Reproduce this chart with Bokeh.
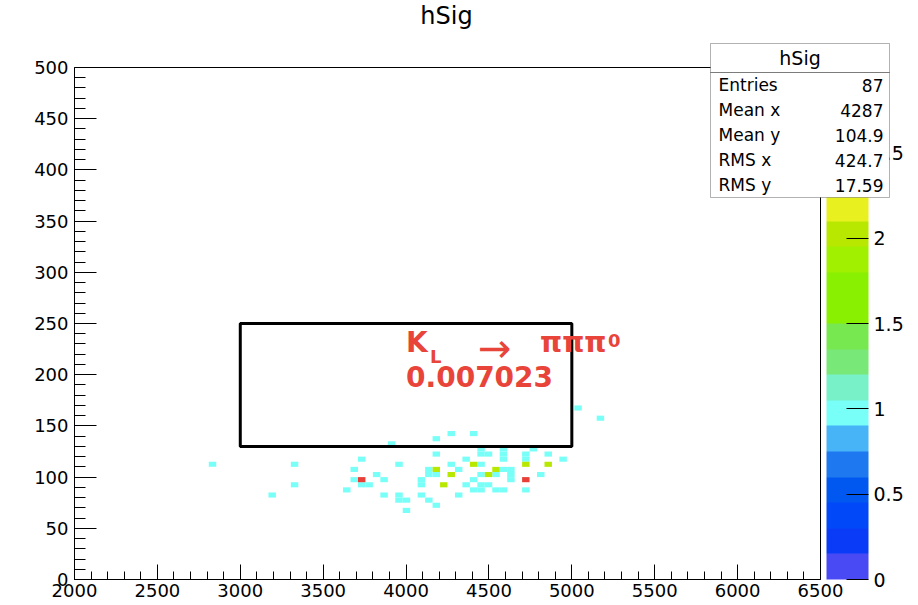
from bokeh.plotting import figure
from bokeh.models import (ColumnDataSource, LinearColorMapper, ColorBar, FixedTicker,
                          SingleIntervalTicker, Label, BoxAnnotation, Range1d)
from bokeh.embed import file_html
from bokeh.resources import INLINE

# hSig: 100 x 100 bins, x in [2000, 6500], y in [0, 500]
x_min, x_max, n_x = 2000, 6500, 100
y_min, y_max, n_y = 0, 500, 100

# filled bins: x bin index, y bin index, content
bin_ix = [67, 70, 50, 53, 48, 42,
          54, 57, 61,
          48, 54, 55, 57, 60, 63,
          38, 52, 57, 60, 65,
          18, 29, 43, 50, 54,
          37, 47, 51, 57, 58,
          40, 47, 48, 54, 56, 58, 62,
          37, 41, 46, 53, 58,
          29, 38, 39, 46, 52, 54, 55,
          36, 53, 54, 56, 57, 60,
          26, 41, 43, 46, 51,
          43, 44, 47,
          48,
          44,
          53, 60, 63, 48, 56, 50, 55, 49,
          38, 60]
bin_iy = [33, 31, 28, 28, 27, 26,
          25, 25, 25,
          24, 24, 24, 24, 24, 24,
          23, 23, 23, 23, 23,
          22, 22, 22, 22, 22,
          21, 21, 21, 21, 21,
          20, 20, 20, 20, 20, 20, 20,
          19, 19, 19, 19, 19,
          18, 18, 18, 18, 18, 18, 18,
          17, 17, 17, 17, 17, 17,
          16, 16, 16, 16, 16,
          15, 15, 15,
          14,
          13,
          22, 22, 22, 21, 21, 20, 20, 18,
          19, 19]
bin_content = [1] * 65 + [2] * 8 + [3] * 2

# signal window drawn on top of the histogram
window_x = [3000, 5000]
window_y = [130, 250]

# statistics box
stats_title = "hSig"
stats_names = ["Entries", "Mean x", "Mean y", "RMS x", "RMS y"]
stats_values = ["87", "4287", "104.9", "424.7", "17.59"]

# colour scale
z_min, z_max = 0, 3
z_ticks = [0, 0.5, 1, 1.5, 2, 2.5, 3]
palette = ["#4a4af5", "#0a3cf8", "#0048f8", "#0058f0", "#1e78f0", "#48b4f8",
           "#78fff8", "#78f0c8", "#78e878", "#78e850", "#88f000", "#88f000",
           "#a0f000", "#b8e800", "#e8f020", "#f8d820", "#f8b020", "#f88828",
           "#f06030", "#e84038"]

FONT = "DejaVu Sans"
RED = "#e8443a"

# canvas geometry (pixels): the histogram occupies [74, 820] x [67, 579]
W, H = 918, 605
PLOT_L, PLOT_R, PLOT_T, PLOT_B = 74, 820, 67, 579


def sx(px):
    """canvas x pixel -> screen units (relative to the frame's left edge)"""
    return px - PLOT_L


def sy(py):
    """canvas y pixel -> screen units (upwards from the frame's bottom edge)"""
    return PLOT_B - py


dx = (x_max - x_min) / n_x
dy = (y_max - y_min) / n_y
src = ColumnDataSource(dict(
    left=[x_min + i * dx for i in bin_ix],
    right=[x_min + (i + 1) * dx for i in bin_ix],
    bottom=[y_min + j * dy for j in bin_iy],
    top=[y_min + (j + 1) * dy for j in bin_iy],
    z=bin_content,
))

# the frame spans the full width / top of the canvas so that the colour bar,
# title and statistics box can share it; axes are bounded to the histogram range
x_end = x_min + (x_max - x_min) * (W - PLOT_L) / (PLOT_R - PLOT_L)
y_end = y_min + (y_max - y_min) * PLOT_B / (PLOT_B - PLOT_T)
p = figure(width=W, height=H, x_range=Range1d(x_min, x_end), y_range=Range1d(y_min, y_end),
           output_backend="svg", toolbar_location=None,
           min_border_left=PLOT_L, min_border_right=0, min_border_top=0,
           min_border_bottom=H - PLOT_B)
p.grid.visible = False
p.outline_line_color = None
p.background_fill_color = "white"
p.border_fill_color = "white"

for ax in (p.xaxis[0], p.yaxis[0]):
    ax.axis_line_color = "black"
    ax.major_tick_line_color = "black"
    ax.minor_tick_line_color = "black"
    ax.major_tick_out = 0
    ax.minor_tick_out = 0
    ax.major_label_text_font = FONT
    ax.major_label_text_font_size = "18px"
    ax.major_label_text_color = "black"

p.xaxis.bounds = (x_min, x_max)
p.xaxis.ticker = SingleIntervalTicker(interval=500, num_minor_ticks=5)
p.xaxis.major_tick_in = 15
p.xaxis.minor_tick_in = 8
p.xaxis.major_label_standoff = 4

p.yaxis.bounds = (y_min, y_max)
p.yaxis.ticker = SingleIntervalTicker(interval=50, num_minor_ticks=5)
p.yaxis.major_tick_in = 22
p.yaxis.minor_tick_in = 11
p.yaxis.major_label_standoff = 6

mapper = LinearColorMapper(palette=palette, low=z_min, high=z_max)
p.quad(left="left", right="right", bottom="bottom", top="top", source=src,
       fill_color={"field": "z", "transform": mapper}, line_color=None)

# frame around the histogram area
p.quad(left=[x_min], right=[x_max], bottom=[y_min], top=[y_max],
       fill_alpha=0, line_color="black", line_width=1)

# signal window
p.quad(left=[window_x[0]], right=[window_x[1]], bottom=[window_y[0]], top=[window_y[1]],
       fill_alpha=0, line_color="black", line_width=3)

# decay label and its value
label_style = dict(text_color=RED, text_font=FONT, text_font_style="bold")
p.add_layout(Label(x=4000, y=215, text="K", text_font_size="28px", **label_style))
p.add_layout(Label(x=4000, y=215, x_offset=24, y_offset=-8, text="L",
                   text_font_size="18px", **label_style))
p.add_layout(Label(x=4000, y=215, x_offset=72, y_offset=-12, text="\u2192",
                   text_font_size="40px", text_color=RED, text_font=FONT))
p.add_layout(Label(x=4000, y=215, x_offset=134, text="\u03c0\u03c0\u03c0",
                   text_font_size="28px", **label_style))
p.add_layout(Label(x=4000, y=215, x_offset=202, y_offset=12, text="0",
                   text_font_size="18px", **label_style))
p.add_layout(Label(x=4000, y=188, text="0.007023", text_font_size="28px", **label_style))

# colour scale to the right of the histogram
cb = ColorBar(color_mapper=mapper, width=42, height=PLOT_B - PLOT_T,
              location=(sx(826), 0), padding=0, margin=0,
              ticker=FixedTicker(ticks=z_ticks),
              major_label_overrides={t: f"{t:g}" for t in z_ticks},
              major_tick_in=22, major_tick_out=0, major_tick_line_color="black",
              minor_tick_line_color=None, label_standoff=5,
              major_label_text_font=FONT, major_label_text_font_size="19px",
              major_label_text_color="black",
              bar_line_color=None, border_line_color=None, background_fill_color=None)
p.add_layout(cb)

# title
p.add_layout(Label(x=sx(446), y=sy(29), x_units="screen", y_units="screen", text="hSig",
                   text_align="center", text_font=FONT, text_font_size="24px",
                   text_color="black", level="overlay"))

# statistics box
box_l, box_r, box_t, box_b, head_b = 710, 889, 43, 197, 72
row_h = (box_b - head_b) / len(stats_names)
p.add_layout(BoxAnnotation(left=sx(box_l), right=sx(box_r), top=sy(box_t), bottom=sy(box_b),
                           left_units="screen", right_units="screen",
                           top_units="screen", bottom_units="screen",
                           fill_color="white", fill_alpha=1, line_color="black",
                           line_width=1, level="overlay"))
p.add_layout(BoxAnnotation(left=sx(box_l), right=sx(box_r), top=sy(head_b), bottom=sy(head_b),
                           left_units="screen", right_units="screen",
                           top_units="screen", bottom_units="screen",
                           fill_alpha=0, line_color="black", line_width=1, level="overlay"))
p.add_layout(Label(x=sx((box_l + box_r) / 2), y=sy((box_t + head_b) / 2),
                   x_units="screen", y_units="screen",
                   text=stats_title, text_align="center", text_baseline="middle",
                   text_font=FONT, text_font_size="19px", text_color="black", level="overlay"))
for k, (name, val) in enumerate(zip(stats_names, stats_values)):
    yc = sy(head_b + row_h * (k + 0.5))
    p.add_layout(Label(x=sx(box_l + 8), y=yc, x_units="screen", y_units="screen", text=name,
                       text_baseline="middle", text_font=FONT, text_font_size="17px",
                       text_color="black", level="overlay"))
    p.add_layout(Label(x=sx(box_r - 6), y=yc, x_units="screen", y_units="screen", text=val,
                       text_align="right", text_baseline="middle", text_font=FONT,
                       text_font_size="17px", text_color="black", level="overlay"))

open("out.html", "w").write(file_html(p, INLINE))
